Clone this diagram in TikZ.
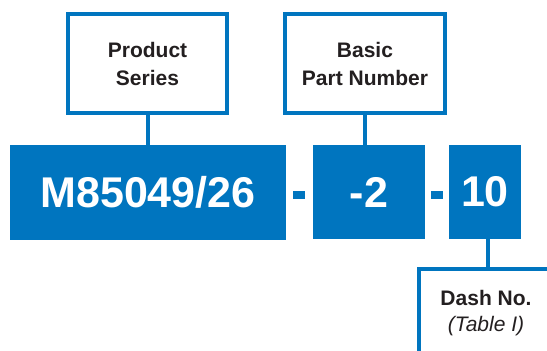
\documentclass[tikz,border=0pt]{standalone}
\usepackage{fontspec}
\setmainfont{Liberation Sans}
\definecolor{bblue}{HTML}{0075BF}
\definecolor{ink}{HTML}{231F20}
\begin{document}
\begin{tikzpicture}[x=1pt,y=-1pt,
  label box/.style={draw=bblue,line width=4pt,fill=white,inner sep=0pt,
    text=ink,font=\fontsize{21}{28}\selectfont\bfseries,align=center},
  code box/.style={fill=bblue,inner sep=0pt,text=white,
    font=\fontsize{43}{43}\selectfont\bfseries},
  sep bar/.style={fill=bblue,inner sep=0pt,minimum width=12pt,minimum height=8pt},
  stem/.style={draw=bblue,line width=4pt}]
\useasboundingbox (0,0) rectangle (547,351);
\clip (0,0) rectangle (547,351);
% label boxes
\node[label box,minimum width=159pt,minimum height=99pt] (ps) at (147.5,63.5) {Product\\Series};
\node[label box,minimum width=160pt,minimum height=99pt] (bp) at (365,63.5) {Basic\\Part Number};
% code boxes
\node[code box,minimum width=276pt,minimum height=95pt] (m) at (148,192.5) {M85049/26};
\node[code box,minimum width=112pt,minimum height=94pt] (two) at (369,192) {-2};
\node[code box,minimum width=72pt,minimum height=94pt] (ten) at (485,192) {10};
% separators
\node[sep bar] (s1) at (299,195) {};
\node[sep bar] (s2) at (437,195) {};
% stems
\draw[stem] (ps.south) -- (ps.south |- m.north);
\draw[stem] (bp.south) -- (bp.south |- two.north);
\coordinate (dtop) at (488,269);
\coordinate (dleft) at (419,269);
\coordinate (dright) at (560,269);
\coordinate (dbot) at (419,370);
\draw[stem] (ten.south -| dtop) -- (dtop);
\draw[stem] (dright) -- (dleft) -- (dbot);
% dash no label
\node[text=ink,align=center,inner sep=0pt,font=\fontsize{21}{26}\selectfont] (dn) at (486,313)
  {\textbf{Dash No.}\\\textit{(Table I)}};
\end{tikzpicture}
\end{document}
